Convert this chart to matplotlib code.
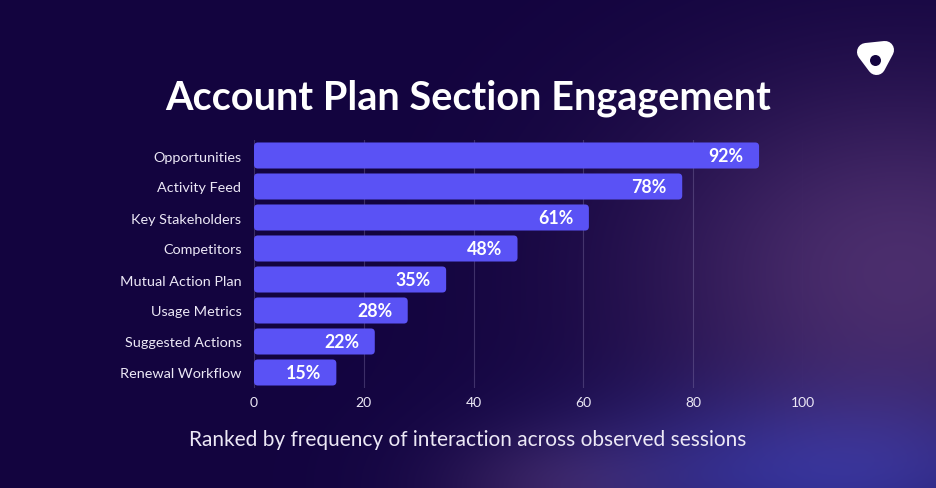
import numpy as np
import matplotlib
matplotlib.use("Agg")
import matplotlib.pyplot as plt
from matplotlib.patches import FancyBboxPatch, Polygon, Circle

# data
categories = ["Opportunities", "Activity Feed", "Key Stakeholders", "Competitors",
              "Mutual Action Plan", "Usage Metrics", "Suggested Actions", "Renewal Workflow"]
values = [92, 78, 61, 48, 35, 28, 22, 15]
x_ticks = [0, 20, 40, 60, 80, 100]

title = "Account Plan Section Engagement"
subtitle = "Ranked by frequency of interaction across observed sessions"

BG = np.array([0x13, 0x04, 0x3f]) / 255
BAR = "#5a52f5"
TXT = "#ece8f6"

W, H = 936, 489
fig = plt.figure(figsize=(W / 100, H / 100), dpi=100)

# background with soft glows
bg = fig.add_axes([0, 0, 1, 1])
yy, xx = np.mgrid[0:H, 0:W]
img = np.ones((H, W, 3)) * BG


def glow(cx, cy, rx, ry, col, strength):
    d = ((xx - cx) / rx) ** 2 + ((yy - cy) / ry) ** 2
    w = np.exp(-d)[..., None] * strength
    return w * (np.array(col) / 255 - BG)


img += glow(900, 270, 260, 190, (0x55, 0x35, 0x75), 0.85)
img += glow(820, 480, 260, 90, (0x2a, 0x2c, 0x95), 0.9)
img += glow(560, 490, 120, 60, (0x45, 0x25, 0x55), 0.6)
img = np.clip(img, 0, 1)
bg.imshow(img, extent=[0, W, H, 0], aspect="auto")
bg.set_xlim(0, W)
bg.set_ylim(H, 0)
bg.axis("off")

# main chart
ax = fig.add_axes([254 / W, (H - 389) / H, 549 / W, 248 / H])
ax.set_facecolor("none")
ypos = np.arange(len(categories))
bars = ax.barh(ypos, values, height=0.84, color=BAR)
for b in bars:
    x0, y0 = b.get_x(), b.get_y()
    w, h = b.get_width(), b.get_height()
    b.set_visible(False)
    ax.add_patch(FancyBboxPatch((x0, y0), w, h,
                                boxstyle="round,pad=0,rounding_size=0.7",
                                mutation_aspect=0.18, fc=BAR, ec="none", zorder=3))

for y, v in zip(ypos, values):
    ax.text(v - 2.8, y, f"{v}%", ha="right", va="center", color="white",
            fontsize=12.8, fontweight="bold", family="Lato", zorder=4)

ax.set_xlim(0, 100)
ax.set_ylim(len(categories) - 0.5, -0.5)
ax.set_xticks(x_ticks)
ax.set_yticks(ypos)
ax.set_yticklabels(categories)
ax.tick_params(axis="both", length=0, colors=TXT, labelsize=10)
ax.tick_params(axis="y", pad=9, labelsize=10.4)
ax.tick_params(axis="x", pad=6)
for lab in ax.get_xticklabels() + ax.get_yticklabels():
    lab.set_family("Lato")
ax.grid(axis="x", color="#8a7fb0", alpha=0.35, linewidth=0.8, zorder=0)
ax.set_axisbelow(True)
for s in ax.spines.values():
    s.set_visible(False)

fig.text(0.5, 1 - 98 / H, title, ha="center", va="center", color="white",
         fontsize=28.5, fontweight="bold", family="Lato")
fig.text(0.5, 1 - 440 / H, subtitle, ha="center", va="center", color=TXT,
         fontsize=15, family="Lato")

# logo
logo = fig.add_axes([0, 0, 1, 1])
logo.set_xlim(0, W)
logo.set_ylim(H, 0)
logo.axis("off")
logo.add_patch(Polygon([(866, 53), (885, 51), (876.5, 67)], closed=True,
                       fc="white", ec="white", lw=13, joinstyle="round"))
logo.add_patch(Circle((875.5, 61.5), 5.5, fc="#13043f", ec="none"))

fig.savefig("out.png", dpi=100, facecolor=BG)
